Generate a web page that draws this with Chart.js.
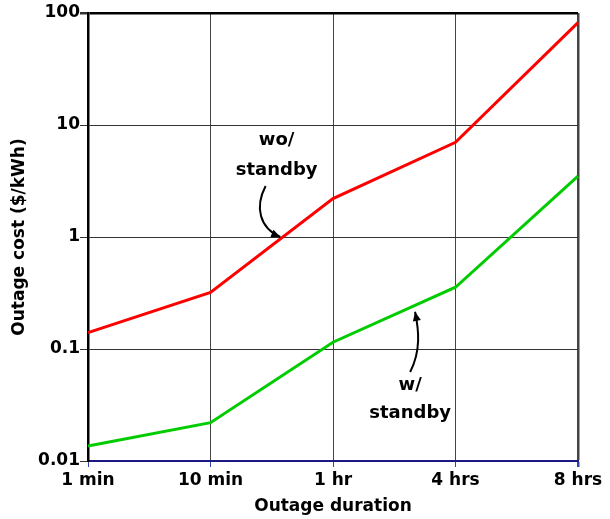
<!DOCTYPE html>
<html>
<head>
<meta charset="utf-8">
<script src="https://cdn.jsdelivr.net/npm/chart.js@4.4.0/dist/chart.umd.min.js"></script>
<style>
  body { margin: 0; background: #fff; }
  #wrap { width: 610px; height: 519px; }
</style>
</head>
<body>
<div id="wrap"><canvas id="costChart" width="610" height="519"></canvas></div>
<script>
const durations = ['1 min', '10 min', '1 hr', '4 hrs', '8 hrs'];
const withoutStandby = [0.14, 0.32, 2.2, 7.0, 82];
const withStandby = [0.0136, 0.022, 0.115, 0.356, 3.5];
const yTickValues = [0.01, 0.1, 1, 10, 100];
const yTickLabels = ['0.01', '0.1', '1', '10', '100'];

const FONT = 'DejaVu Sans';

// text notes with curved arrows, placed in data units (category index, value)
const notes = [
    {
        lines: [['wo/', 1.54, 7.3], ['standby', 1.54, 3.9]],
        arrow: [[1.45, 2.85], [1.36, 1.85], [1.40, 1.2], [1.57, 1.0]]
    },
    {
        lines: [['w/', 2.63, 0.047], ['standby', 2.63, 0.0265]],
        arrow: [[2.63, 0.0623], [2.72, 0.098], [2.70, 0.148], [2.67, 0.215]]
    }
];

const notePlugin = {
    id: 'notes',
    afterDatasetsDraw(chart) {
        const ctx = chart.ctx;
        const xs = chart.scales.x, ys = chart.scales.y;
        const px = (p) => [xs.getPixelForValue(p[0]), ys.getPixelForValue(p[1])];
        ctx.save();
        ctx.fillStyle = '#000';
        ctx.strokeStyle = '#000';
        ctx.font = 'bold 18px ' + FONT;
        ctx.textAlign = 'center';
        ctx.textBaseline = 'middle';
        notes.forEach(n => {
            n.lines.forEach(l => {
                const [x, y] = px([l[1], l[2]]);
                ctx.fillText(l[0], x, y);
            });
            const [p0, p1, p2, p3] = n.arrow.map(px);
            ctx.lineWidth = 2;
            ctx.beginPath();
            ctx.moveTo(p0[0], p0[1]);
            ctx.bezierCurveTo(p1[0], p1[1], p2[0], p2[1], p3[0], p3[1]);
            ctx.stroke();
            // arrow head
            const ang = Math.atan2(p3[1] - p2[1], p3[0] - p2[0]);
            const len = 10, w = 0.42;
            ctx.beginPath();
            ctx.moveTo(p3[0], p3[1]);
            ctx.lineTo(p3[0] - len * Math.cos(ang - w), p3[1] - len * Math.sin(ang - w));
            ctx.lineTo(p3[0] - len * Math.cos(ang + w), p3[1] - len * Math.sin(ang + w));
            ctx.closePath();
            ctx.fill();
        });
        ctx.restore();
    }
};

new Chart(document.getElementById('costChart'), {
    type: 'line',
    data: {
        labels: durations,
        datasets: [
            {
                label: 'wo/ standby',
                data: withoutStandby,
                borderColor: '#ff0000',
                borderWidth: 3,
                pointRadius: 0,
                tension: 0
            },
            {
                label: 'w/ standby',
                data: withStandby,
                borderColor: '#00cc00',
                borderWidth: 3,
                pointRadius: 0,
                tension: 0
            }
        ]
    },
    options: {
        responsive: false,
        animation: false,
        layout: { padding: { left: 0, right: 32, top: 13, bottom: 0 } },
        plugins: { legend: { display: false }, tooltip: { enabled: false } },
        scales: {
            x: {
                type: 'category',
                offset: false,
                afterFit: (s) => { s.height = 58; },
                grid: {
                    color: '#444',
                    lineWidth: (c) => c.index === durations.length - 1 ? 2.5 : 1,
                    tickLength: 6,
                    tickColor: '#3344aa'
                },
                border: { color: '#1a1a80', width: 2 },
                ticks: {
                    color: '#000',
                    padding: 3,
                    maxRotation: 0,
                    font: { family: FONT, size: 17, weight: 'bold' }
                },
                title: {
                    display: true,
                    text: 'Outage duration',
                    color: '#000',
                    padding: { top: 0, bottom: 2 },
                    font: { family: FONT, size: 17, weight: 'bold' }
                }
            },
            y: {
                type: 'logarithmic',
                min: 0.01,
                max: 100,
                afterFit: (s) => { s.width = 88; },
                afterBuildTicks: (s) => { s.ticks = yTickValues.map(v => ({ value: v })); },
                grid: {
                    color: (c) => c.tick && c.tick.value === 100 ? '#000' : '#333',
                    lineWidth: (c) => c.tick && c.tick.value === 100 ? 2.5 : 1,
                    tickLength: 8,
                    tickColor: '#333'
                },
                border: { color: '#000', width: 2.5 },
                ticks: {
                    color: '#000',
                    padding: 0,
                    font: { family: FONT, size: 17, weight: 'bold' },
                    callback: (v) => {
                        const i = yTickValues.findIndex(t => Math.abs(t - v) < t * 1e-6);
                        return i >= 0 ? yTickLabels[i] : '';
                    }
                },
                title: {
                    display: true,
                    text: 'Outage cost ($/kWh)',
                    color: '#000',
                    padding: { top: 9, bottom: 0 },
                    font: { family: FONT, size: 17, weight: 'bold' }
                }
            }
        }
    },
    plugins: [notePlugin]
});
</script>
</body>
</html>
